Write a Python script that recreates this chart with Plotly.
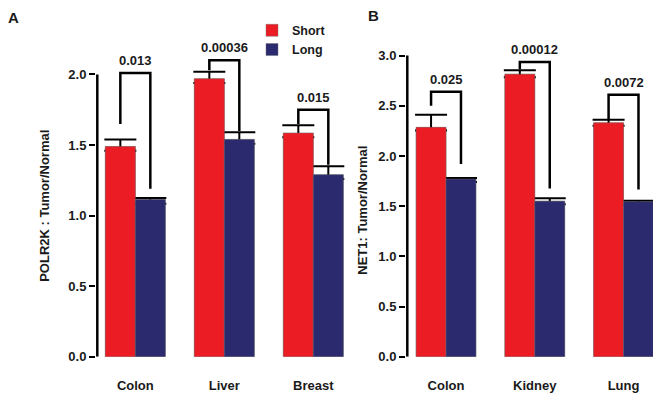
import plotly.graph_objects as go

# ---- data -------------------------------------------------------------
cats_a = ["Colon", "Liver", "Breast"]
short_a = [1.49, 1.97, 1.585]
short_a_err = [0.05, 0.05, 0.055]
long_a = [1.115, 1.54, 1.29]
long_a_err = [0.01, 0.05, 0.06]
pvals_a = ["0.013", "0.00036", "0.015"]

cats_b = ["Colon", "Kidney", "Lung"]
short_b = [2.285, 2.815, 2.33]
short_b_err = [0.125, 0.04, 0.03]
long_b = [1.77, 1.55, 1.545]
long_b_err = [0.01, 0.03, 0.01]
pvals_b = ["0.025", "0.00012", "0.0072"]

# bracket geometry (left leg start, bar top, right leg end) per comparison
brk_a = [(1.65, 2.01, 1.19), (2.03, 2.10, 1.60), (1.65, 1.75, 1.36)]
brk_b = [(2.50, 2.64, 1.92), (2.865, 2.935, 1.675), (2.36, 2.61, 1.665)]

# ---- styling -----------------------------------------------------------
RED = "#EC1C24"
BLUE = "#2B2A6E"
INK = "#1a1a1a"
FONT = "Liberation Sans"
W, H = 653, 403
BW = 0.337  # bar width in category units

Y_BOTTOM = 1 - 364 / H
Y_TOP = 1 - 18 / H
YMAX_A = 346 / 144
YMAX_B = 346 / 102.43
XR_A = [-0.442, 2.401]
XR_B = [-0.451, 2.332]
DOM_A = [96 / W, 349 / W]
DOM_B = [406 / W, 1]

fig = go.Figure()


def add_panel(cats, s, se, l, le, xa, ya, legend):
    xs = list(range(len(cats)))
    common = dict(width=BW, marker_line=dict(color="rgba(110,110,110,0.55)", width=0.8))
    eb = dict(type="data", symmetric=False, color="black", thickness=2, width=16)
    fig.add_trace(go.Bar(x=xs, y=s, name="<b>Short</b>", marker_color=RED, offset=-BW,
                         error_y=dict(array=se, arrayminus=[0.03] * len(s), **eb),
                         xaxis=xa, yaxis=ya, showlegend=legend, **common))
    fig.add_trace(go.Bar(x=xs, y=l, name="<b>Long</b>", marker_color=BLUE, offset=0,
                         error_y=dict(array=le, arrayminus=[0.03] * len(l), **eb),
                         xaxis=xa, yaxis=ya, showlegend=legend, **common))
    # same bars again so only the upper whisker of each error bar shows
    fig.add_trace(go.Bar(x=xs, y=s, marker_color=RED, offset=-BW, xaxis=xa, yaxis=ya,
                         showlegend=False, hoverinfo="skip", **common))
    fig.add_trace(go.Bar(x=xs, y=l, marker_color=BLUE, offset=0, xaxis=xa, yaxis=ya,
                         showlegend=False, hoverinfo="skip", **common))


add_panel(cats_a, short_a, short_a_err, long_a, long_a_err, "x", "y", True)
add_panel(cats_b, short_b, short_b_err, long_b, long_b_err, "x2", "y2", False)

# left spines, running only up to the top tick (nudged 1.3 px inside the plot area)
for xr, dom, top, xa, ya in ((XR_A, DOM_A, 2.0, "x", "y"), (XR_B, DOM_B, 3.0, "x2", "y2")):
    per_px = (xr[1] - xr[0]) / ((dom[1] - dom[0]) * W)
    xe = xr[0] + 1.3 * per_px
    fig.add_trace(go.Scatter(x=[xe, xe], y=[0, top], mode="lines",
                             line=dict(color="black", width=2.5),
                             xaxis=xa, yaxis=ya, showlegend=False, hoverinfo="skip",
                             cliponaxis=False))

shapes = []
annotations = []


def brackets(brk, pvals, xref, yref):
    for i, ((y0, ytop, y1), p) in enumerate(zip(brk, pvals)):
        xl = i - BW / 2
        xr = i + BW / 2
        shapes.append(dict(type="path", xref=xref, yref=yref,
                           path=f"M {xl},{y0} L {xl},{ytop} L {xr},{ytop} L {xr},{y1}",
                           line=dict(color="black", width=2.5)))
        annotations.append(dict(x=i, y=ytop, xref=xref, yref=yref, text=f"<b>{p}</b>",
                                showarrow=False, yanchor="bottom", yshift=3,
                                font=dict(family=FONT, size=13, color=INK)))


brackets(brk_a, pvals_a, "x", "y")
brackets(brk_b, pvals_b, "x2", "y2")

# panel letters
for txt, xpx, ypx in (("A", 13, 17.5), ("B", 373.5, 15.5)):
    annotations.append(dict(x=xpx / W, y=1 - ypx / H, xref="paper", yref="paper",
                            text=f"<b>{txt}</b>", showarrow=False,
                            xanchor="center", yanchor="middle",
                            font=dict(family=FONT, size=15, color=INK)))

# y-axis titles
for txt, xpx, ypx in (("POLR2K : Tumor/Normal", 45, 210), ("NET1: Tumor/Normal", 363, 215)):
    annotations.append(dict(x=xpx / W, y=1 - ypx / H, xref="paper", yref="paper",
                            text=f"<b>{txt}</b>", textangle=-90, showarrow=False,
                            xanchor="center", yanchor="middle",
                            font=dict(family=FONT, size=13, color=INK)))

tickfont = dict(family=FONT, size=13, color=INK)

xcommon = dict(showgrid=False, zeroline=False, showline=False, ticks="",
               tickfont=dict(family=FONT, size=13, color=INK), ticklabelstandoff=19)
ycommon = dict(showgrid=False, zeroline=False, showline=False, ticks="outside",
               ticklen=6, tickwidth=2, tickcolor="black", tickfont=tickfont)


def fmt(v):
    return f"<b>{v:.1f}</b>"


yt_a = [0, 0.5, 1, 1.5, 2]
yt_b = [0, 0.5, 1, 1.5, 2, 2.5, 3]

fig.update_layout(
    width=W, height=H,
    margin=dict(l=0, r=0, t=0, b=0),
    paper_bgcolor="white", plot_bgcolor="white",
    barmode="overlay",
    xaxis=dict(domain=DOM_A, range=XR_A,
               tickvals=[0, 1, 2], ticktext=[f"<b>{c}</b>" for c in cats_a],
               anchor="y", **xcommon),
    yaxis=dict(domain=[Y_BOTTOM, Y_TOP], range=[0, YMAX_A], anchor="x",
               tickvals=yt_a, ticktext=[fmt(v) for v in yt_a], **ycommon),
    xaxis2=dict(domain=DOM_B, range=XR_B,
                tickvals=[0, 1, 2], ticktext=[f"<b>{c}</b>" for c in cats_b],
                anchor="y2", **xcommon),
    yaxis2=dict(domain=[Y_BOTTOM, Y_TOP], range=[0, YMAX_B], anchor="x2",
                tickvals=yt_b, ticktext=[fmt(v) for v in yt_b], **ycommon),
    legend=dict(x=252 / W, y=1 - 16 / H, xanchor="left", yanchor="top",
                bgcolor="rgba(0,0,0,0)", font=dict(family=FONT, size=12.5, color=INK),
                itemwidth=30, tracegroupgap=0),
    shapes=shapes,
    annotations=annotations,
    showlegend=True,
)

fig.write_html("out.html")
